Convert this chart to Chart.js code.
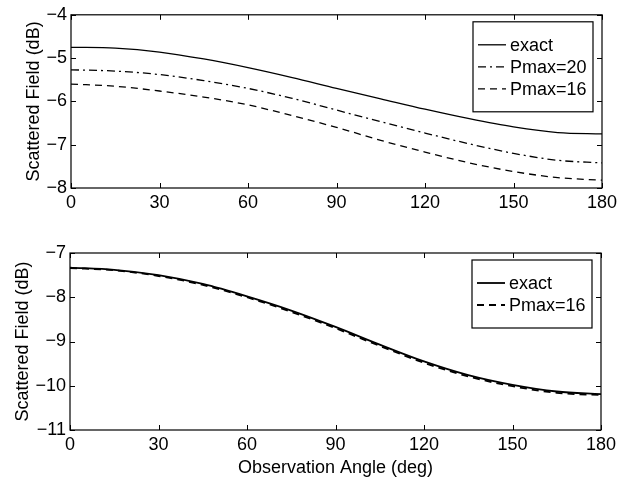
<!DOCTYPE html>
<html>
<head>
<meta charset="utf-8">
<script src="https://cdn.jsdelivr.net/npm/chart.js@4/dist/chart.umd.min.js"></script>
<style>
  body { margin: 0; background: #fff; }
  #wrap { position: relative; width: 629px; height: 480px; }
  canvas { position: absolute; left: 0; }
  #topChart { top: 0; }
  #bottomChart { top: 225px; }
</style>
</head>
<body>
<div id="wrap">
  <canvas id="topChart" width="629" height="220"></canvas>
  <canvas id="bottomChart" width="629" height="255"></canvas>
</div>
<script>
// 观测角 (deg)
const angles = [0, 15, 30, 45, 60, 75, 90, 105, 120, 135, 150, 165, 180];

// 上图
const topExact   = [-4.75, -4.77, -4.86, -5.02, -5.22, -5.45, -5.70, -5.94, -6.18, -6.40, -6.59, -6.72, -6.75];
const topPmax20  = [-5.27, -5.30, -5.38, -5.52, -5.70, -5.93, -6.20, -6.47, -6.73, -6.98, -7.20, -7.36, -7.42];
const topPmax16  = [-5.60, -5.65, -5.76, -5.90, -6.08, -6.33, -6.60, -6.90, -7.17, -7.42, -7.62, -7.76, -7.82];

// 下图
const botExact   = [-7.33, -7.38, -7.50, -7.70, -7.98, -8.30, -8.67, -9.07, -9.45, -9.76, -9.98, -10.13, -10.19];
const botPmax16  = [-7.34, -7.39, -7.52, -7.72, -8.00, -8.33, -8.70, -9.10, -9.48, -9.79, -10.01, -10.16, -10.21];

const xTicks = [0, 30, 60, 90, 120, 150, 180];

const FONT = 'Liberation Sans, Arial, Helvetica, sans-serif';
Chart.defaults.font.family = FONT;
Chart.defaults.font.size = 18;
Chart.defaults.color = '#000';

function pts(ys) {
    return angles.map((a, i) => ({ x: a, y: ys[i] }));
}

function minusFmt(v) {
    return (v < 0 ? '\u2212' : '') + Math.abs(v);
}

// 边框 + 内向刻度
const framePlugin = {
    id: 'frame',
    afterDraw(chart) {
        const { ctx, chartArea: a, scales } = chart;
        const len = 5;
        ctx.save();
        ctx.strokeStyle = '#000';
        ctx.lineWidth = 1.2;
        ctx.strokeRect(a.left, a.top, a.right - a.left, a.bottom - a.top);
        ctx.beginPath();
        scales.x.ticks.forEach(t => {
            const px = Math.round(scales.x.getPixelForValue(t.value)) + 0.5;
            ctx.moveTo(px, a.bottom); ctx.lineTo(px, a.bottom - len);
            ctx.moveTo(px, a.top); ctx.lineTo(px, a.top + len);
        });
        scales.y.ticks.forEach(t => {
            const py = Math.round(scales.y.getPixelForValue(t.value)) + 0.5;
            ctx.moveTo(a.left, py); ctx.lineTo(a.left + len, py);
            ctx.moveTo(a.right, py); ctx.lineTo(a.right - len, py);
        });
        ctx.lineWidth = 1;
        ctx.stroke();
        ctx.restore();
    }
};

// 图例
const boxLegend = {
    id: 'boxLegend',
    afterDraw(chart) {
        const { ctx, chartArea: a } = chart;
        const sets = chart.data.datasets;
        const w = 120, rowH = 22;
        const h = sets.length * rowH + 24;
        const x0 = a.right - 9 - w, y0 = a.top + 7;
        ctx.save();
        ctx.fillStyle = '#fff';
        ctx.fillRect(x0, y0, w, h);
        ctx.strokeStyle = '#000';
        ctx.lineWidth = 1.2;
        ctx.strokeRect(x0, y0, w, h);
        ctx.font = '18px ' + FONT;
        ctx.textBaseline = 'middle';
        ctx.fillStyle = '#000';
        sets.forEach((ds, i) => {
            const y = y0 + 23 + i * rowH;
            ctx.beginPath();
            ctx.setLineDash(ds.borderDash || []);
            ctx.lineWidth = ds.borderWidth;
            ctx.moveTo(x0 + 5, y);
            ctx.lineTo(x0 + 33, y);
            ctx.stroke();
            ctx.setLineDash([]);
            ctx.fillText(ds.label, x0 + 37, y + 1);
        });
        ctx.restore();
    }
};

function makeOptions(cfg) {
    return {
        responsive: false,
        animation: false,
        layout: { padding: { top: cfg.padTop, right: cfg.padRight, left: 0, bottom: 0 } },
        plugins: { legend: { display: false }, tooltip: { enabled: false } },
        elements: { point: { radius: 0 }, line: { cubicInterpolationMode: 'monotone' } },
        scales: {
            x: {
                type: 'linear',
                min: 0, max: 180,
                afterBuildTicks: s => { s.ticks = xTicks.map(v => ({ value: v })); },
                afterFit: s => { s.height = cfg.xHeight; },
                grid: { display: false, drawTicks: false },
                border: { display: false },
                ticks: { padding: 4, maxRotation: 0 },
                title: cfg.xTitle ? { display: true, text: cfg.xTitle, padding: { top: 0, bottom: 1 } } : { display: false }
            },
            y: {
                min: cfg.yMin, max: cfg.yMax,
                afterFit: s => { s.width = cfg.yWidth; },
                grid: { display: false, drawTicks: false },
                border: { display: false },
                ticks: { stepSize: 1, padding: 4, callback: minusFmt },
                title: { display: true, text: 'Scattered Field (dB)', padding: { top: cfg.yTitlePad, bottom: 0 } }
            }
        }
    };
}

new Chart(document.getElementById('topChart'), {
    type: 'line',
    data: {
        datasets: [
            { label: 'exact', data: pts(topExact), borderColor: '#000', borderWidth: 1.3, borderDash: [] },
            { label: 'Pmax=20', data: pts(topPmax20), borderColor: '#000', borderWidth: 1.3, borderDash: [8, 4, 2, 4] },
            { label: 'Pmax=16', data: pts(topPmax16), borderColor: '#000', borderWidth: 1.3, borderDash: [7, 5] }
        ]
    },
    options: makeOptions({ padTop: 10, padRight: 27, xHeight: 32, yWidth: 71, yMin: -8, yMax: -4, yTitlePad: 23 }),
    plugins: [framePlugin, boxLegend]
});

new Chart(document.getElementById('bottomChart'), {
    type: 'line',
    data: {
        datasets: [
            { label: 'exact', data: pts(botExact), borderColor: '#000', borderWidth: 1.8, borderDash: [] },
            { label: 'Pmax=16', data: pts(botPmax16), borderColor: '#000', borderWidth: 1.8, borderDash: [7, 5] }
        ]
    },
    options: makeOptions({ padTop: 28, padRight: 28, xHeight: 50, yWidth: 70, yMin: -11, yMax: -7, yTitlePad: 12, xTitle: 'Observation Angle (deg)' }),
    plugins: [framePlugin, boxLegend]
});
</script>
</body>
</html>
